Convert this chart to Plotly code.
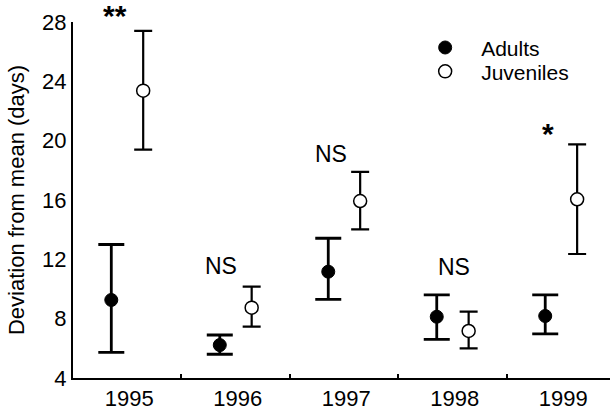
import plotly.graph_objects as go

years = ["1995", "1996", "1997", "1998", "1999"]
adult_mean = [9.26, 6.22, 11.17, 8.13, 8.18]
adult_upper = [13.0, 6.9, 13.42, 9.6, 9.6]
adult_lower = [5.73, 5.6, 9.3, 6.6, 6.97]
juv_mean = [23.37, 8.74, 15.93, 7.17, 16.05]
juv_upper = [27.4, 10.16, 17.9, 8.47, 19.75]
juv_lower = [19.4, 7.46, 14.02, 6.0, 12.36]
sig_labels = ["**", "NS", "NS", "NS", "*"]
sig_y = [28.0, 11.55, 19.13, 11.48, 20.5]
sig_dx = [-0.11, -0.134, -0.122, 0.011, -0.123]
sig_shift = [7, 0, 0, 0, 0]

offset = 0.147
idx = list(range(len(years)))
xa = [i - offset for i in idx]
xj = [i + offset for i in idx]

FONT = "Liberation Sans, Arial, Helvetica, sans-serif"

fig = go.Figure()
fig.add_trace(go.Scatter(
    x=xa, y=adult_mean, mode="markers", name="Adults", legend="legend",
    marker=dict(symbol="circle", size=13, color="black", line=dict(color="black", width=1)),
    error_y=dict(type="data", symmetric=False,
                 array=[u - m for u, m in zip(adult_upper, adult_mean)],
                 arrayminus=[m - l for m, l in zip(adult_mean, adult_lower)],
                 color="black", thickness=2.8, width=13),
))
fig.add_trace(go.Scatter(
    x=xj, y=juv_mean, mode="markers", name="Juveniles", legend="legend2",
    marker=dict(symbol="circle", size=13, color="white", line=dict(color="black", width=1.5)),
    error_y=dict(type="data", symmetric=False,
                 array=[u - m for u, m in zip(juv_upper, juv_mean)],
                 arrayminus=[m - l for m, l in zip(juv_mean, juv_lower)],
                 color="black", thickness=2.2, width=9),
))

for i, (lab, yv, dx, sh) in enumerate(zip(sig_labels, sig_y, sig_dx, sig_shift)):
    star = "*" in lab
    fig.add_annotation(
        x=i + dx, y=yv, yshift=sh, text=("<b>%s</b>" % lab) if star else lab,
        showarrow=False, xref="x", yref="y",
        font=dict(family=FONT, size=30 if star else 23, color="black"),
    )

legend_common = dict(xanchor="left", yanchor="top",
                     font=dict(family=FONT, size=21, color="black"),
                     itemwidth=62, bgcolor="rgba(0,0,0,0)", borderwidth=0)

fig.update_layout(
    width=610, height=414,
    margin=dict(l=73, r=0, t=22, b=36),
    paper_bgcolor="white", plot_bgcolor="white",
    font=dict(family=FONT, color="black"),
    showlegend=True,
    legend=dict(x=0.626, y=0.985, **legend_common),
    legend2=dict(x=0.626, y=0.918, **legend_common),
    xaxis=dict(
        range=[-0.5, 4.45], tickvals=idx, ticktext=years,
        ticks="", showgrid=False, zeroline=False, automargin=False,
        showline=True, linecolor="black", linewidth=2,
        tickfont=dict(family=FONT, size=22, color="black"),
        ticklabelshift=2,
        minor=dict(tickvals=[0.5, 1.5, 2.5, 3.5], ticks="inside", ticklen=4,
                   tickwidth=1.5, tickcolor="black", showgrid=False),
    ),
    yaxis=dict(
        range=[4, 28], tickvals=[4, 8, 12, 16, 20, 24, 28],
        ticks="", showgrid=False, zeroline=False, automargin=False,
        showline=True, linecolor="black", linewidth=2,
        tickfont=dict(family=FONT, size=22, color="black"),
        title=dict(text="Deviation from mean (days)", standoff=11,
                   font=dict(family=FONT, size=22, color="black")),
    ),
)

fig.write_html(
    "out.html",
    config={"displayModeBar": False},
    post_script="document.body.style.margin='0px';document.body.style.overflow='hidden';",
)
